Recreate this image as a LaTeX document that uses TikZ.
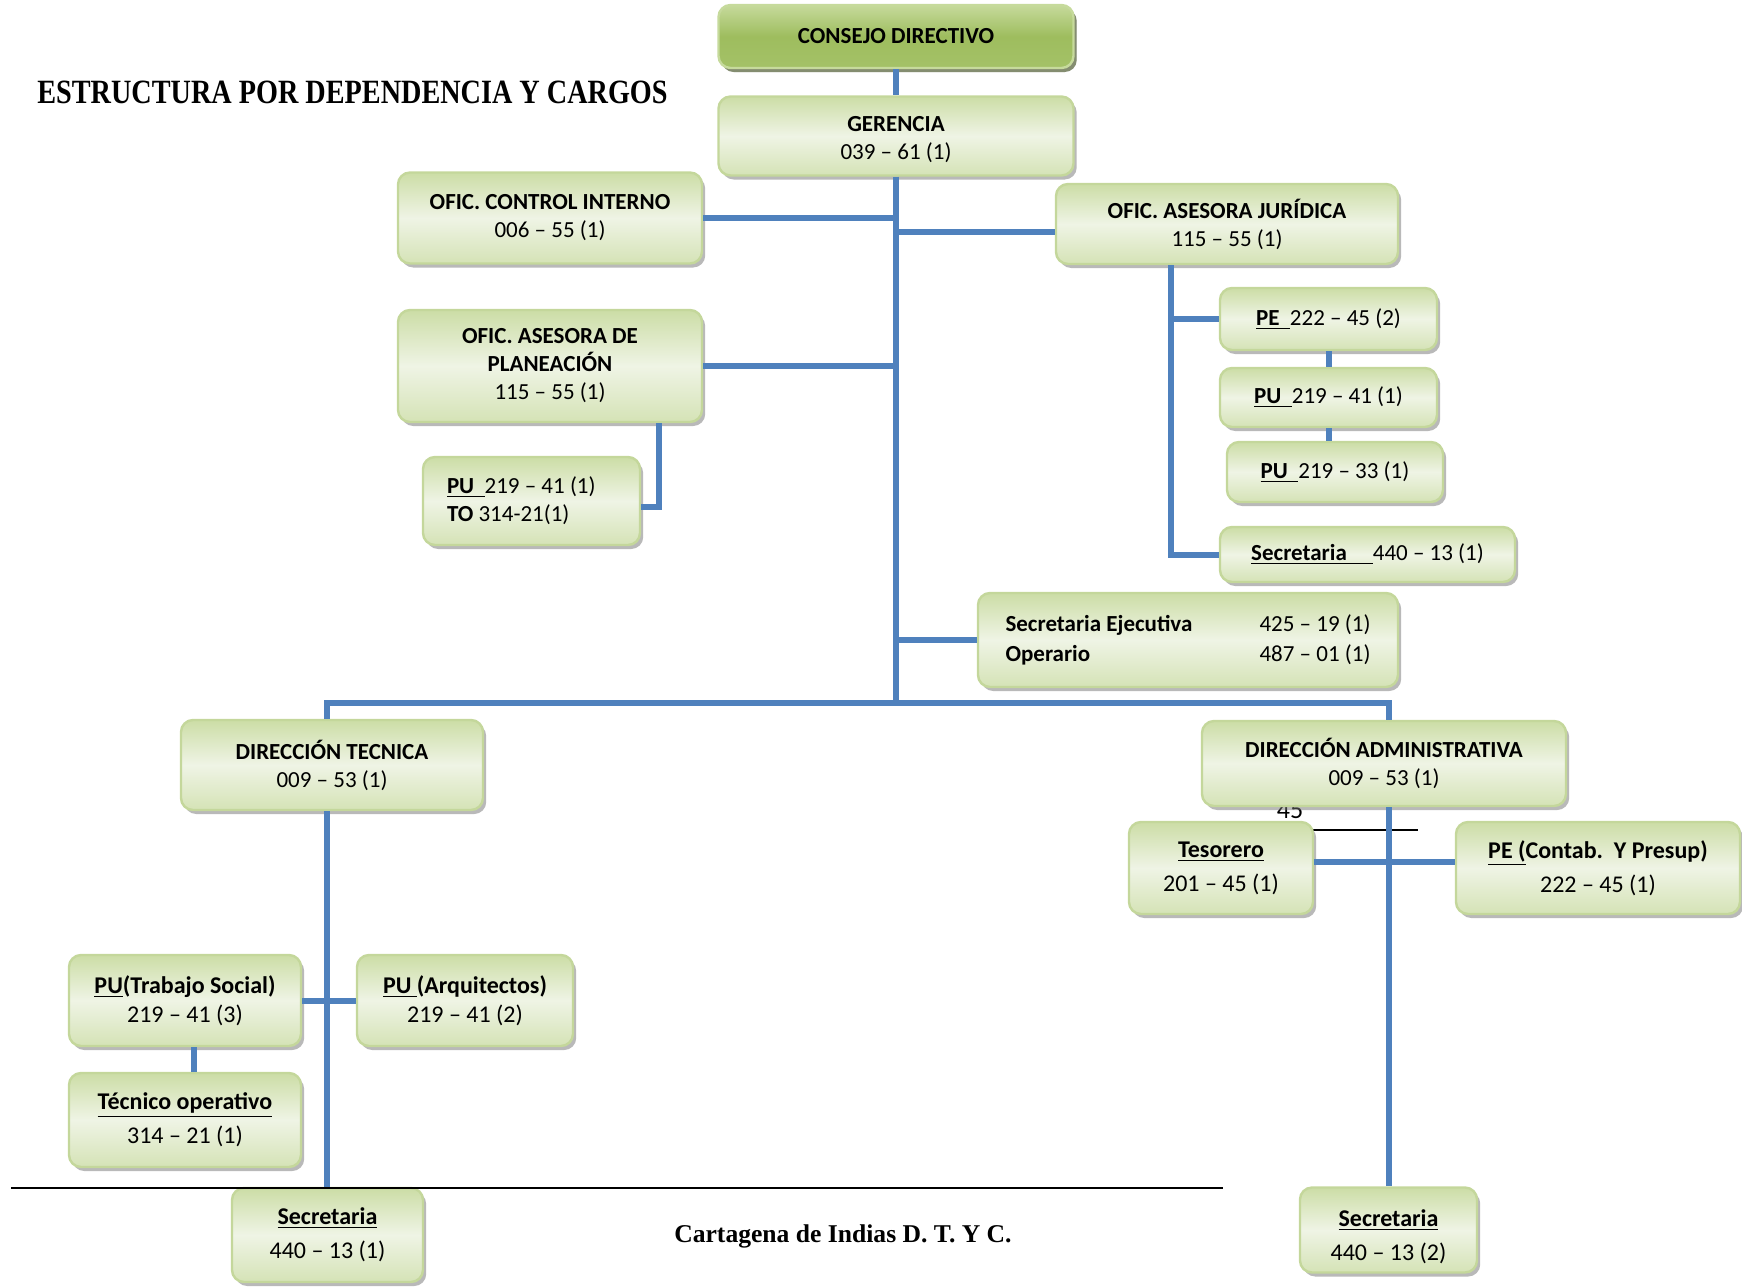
\documentclass[tikz,border=0pt]{standalone}
\usepackage{fontspec}
\usepackage{graphicx}
\setmainfont{Carlito}
\newfontfamily\titlefont{Liberation Serif}
\usetikzlibrary{shadows}
\definecolor{linkblue}{RGB}{79,129,189}
\definecolor{boxgreen}{RGB}{204,221,166}
\definecolor{boxlight}{RGB}{239,244,229}
\definecolor{boxline}{RGB}{196,215,155}
\definecolor{topgreen}{RGB}{158,189,94}
\definecolor{toplight}{RGB}{198,218,156}
\definecolor{topshadow}{RGB}{79,98,40}
\newcommand{\lowstrut}[1]{\rule{0pt}{#1}}
\tikzset{
  box/.style={rectangle, rounded corners=6pt, draw=boxline, line width=1.2pt,
    top color=boxgreen, bottom color=boxgreen!75!boxlight, middle color=boxlight,
    drop shadow={shadow xshift=1.6pt, shadow yshift=-2pt, fill=black!55},
    align=center, inner sep=0pt, font=\fontsize{11.5}{14}\selectfont},
  wide/.style={font=\fontsize{12}{17}\selectfont},
  topbox/.style={box, draw=toplight, top color=toplight, bottom color=topgreen!85!toplight,
    middle color=topgreen, drop shadow={shadow xshift=1.6pt, shadow yshift=-2pt, fill=topshadow}},
  link/.style={draw=linkblue, line width=3pt}
}
\begin{document}
\begin{tikzpicture}[x=0.5pt, y=-0.5pt]
  \useasboundingbox (0,0) rectangle (1742,1287);
  \node[anchor=base west, inner sep=0pt] (title) at (37,103)
    {\scalebox{0.83}[1]{\titlefont\bfseries\fontsize{17}{19}\selectfont ESTRUCTURA POR DEPENDENCIA Y CARGOS}};
  \node[anchor=base] (frag) at (1290,818) {\fontsize{13}{15}\selectfont 45};
  \draw[line width=0.8pt] (1313,830) -- (1418,830);

  \node[topbox, minimum width=177.5pt, minimum height=31.5pt] (consejo) at (896,36.5) {\textbf{CONSEJO DIRECTIVO}};
  \node[box, minimum width=177.5pt, minimum height=39.5pt] (gerencia) at (896,136) {\lowstrut{11.5pt}\textbf{GERENCIA}\\039 – 61 (1)};
  \node[box, minimum width=152pt, minimum height=45.5pt] (control) at (550,218) {\textbf{OFIC. CONTROL INTERNO}\\006 – 55 (1)};
  \node[box, minimum width=171pt, minimum height=40pt] (juridica) at (1227,224) {\textbf{OFIC. ASESORA JURÍDICA}\\115 – 55 (1)};
  \node[box, minimum width=152pt, minimum height=56pt] (planeacion) at (550,366) {\textbf{OFIC. ASESORA DE}\\\textbf{PLANEACIÓN}\\115 – 55 (1)};
  \node[box, align=flush left, text width=84.5pt, minimum width=108.5pt, minimum height=44pt] (putopl) at (531.5,501) {\underline{\textbf{PU\ \ }}219 – 41 (1)\\\textbf{TO} 314-21(1)};
  \node[box, minimum width=108.5pt, minimum height=31pt] (pe1) at (1328.5,319) {\underline{\textbf{PE\ \ }}222 – 45 (2)};
  \node[box, minimum width=108.5pt, minimum height=29.5pt] (pu1) at (1328.5,397.5) {\underline{\textbf{PU\ \ }}219 – 41 (1)};
  \node[box, minimum width=108pt, minimum height=30pt] (pu2) at (1335,472) {\underline{\textbf{PU\ \ }}219 – 33 (1)};
  \node[box, minimum width=147.5pt, minimum height=27.5pt] (secj) at (1367.5,554.5) {\underline{\textbf{Secretaria\ \ \ \ \ }}440 – 13 (1)};
  \node[box, minimum width=210pt, minimum height=47pt, font=\fontsize{11.5}{15}\selectfont] (sejec) at (1188,640)
    {\begin{tabular}{@{}p{127pt}@{}l@{}}\textbf{Secretaria Ejecutiva} & 425 – 19 (1)\\\textbf{Operario} & 487 – 01 (1)\end{tabular}};
  \node[box, minimum width=151pt, minimum height=45pt] (dtec) at (332,765) {\textbf{DIRECCIÓN TECNICA}\\009 – 53 (1)};
  \node[box, minimum width=182pt, minimum height=42.5pt] (dadm) at (1384,763.5) {\textbf{DIRECCIÓN ADMINISTRATIVA}\\009 – 53 (1)};
  \node[box, wide, minimum width=92pt, minimum height=46pt] (teso) at (1221,868) {\underline{\textbf{Tesorero}}\\201 – 45 (1)};
  \node[box, wide, minimum width=142pt, minimum height=46pt] (pecont) at (1598,868) {\underline{\textbf{PE (}}\textbf{Contab.\ \ Y Presup)}\\222 – 45 (1)};
  \node[box, minimum width=116pt, minimum height=45.5pt, font=\fontsize{12}{14.5}\selectfont] (puts) at (185,1000.5) {\underline{\textbf{PU}}\textbf{(Trabajo Social)}\\219 – 41 (3)};
  \node[box, minimum width=108pt, minimum height=45.5pt, font=\fontsize{12}{14.5}\selectfont] (puarq) at (465,1000.5) {\underline{\textbf{PU }}\textbf{(Arquitectos)}\\219 – 41 (2)};
  \node[box, wide, minimum width=116pt, minimum height=47pt] (tecop) at (185,1120) {\underline{\textbf{Técnico operativo}}\\314 – 21 (1)};
  \node[box, wide, minimum width=95.5pt, minimum height=47pt] (sec1) at (327.5,1235) {\underline{\textbf{Secretaria}}\\440 – 13 (1)};
  \node[box, wide, minimum width=88.5pt, minimum height=42.5pt] (sec2) at (1388.5,1230) {\lowstrut{15pt}\underline{\textbf{Secretaria}}\\440 – 13 (2)};

  \coordinate (bus) at (0,703);
  \coordinate (bl) at (327,703);
  \coordinate (br) at (1389,703);
  \begin{scope}[link]
    \draw (consejo) to (gerencia);
    \draw (gerencia) to (gerencia |- bus);
    \draw (control) to (control -| gerencia);
    \draw ([yshift=-4pt]juridica.west) to ([yshift=-4pt]juridica.west -| gerencia);
    \draw (planeacion) to (planeacion -| gerencia);
    \draw (sejec) to (sejec -| gerencia);
    \draw ([xshift=9pt]putopl.east |- planeacion.south) |- ([yshift=-3pt]putopl.east);
    \draw ([xshift=-28pt]juridica.south) |- (pe1);
    \draw ([xshift=-28pt]juridica.south) |- (secj);
    \draw (pe1) to (pu1);
    \draw (pu1.south) to (pu1.south |- pu2.north);
    \draw (bl |- dtec.north) -- (bl) -- (br) -- (br |- dadm.north);
    \draw (bl |- dtec.south) to (bl |- sec1.north);
    \draw (puts) to (puarq);
    \draw ([xshift=4.5pt]puts.south) to ([xshift=4.5pt]tecop.north);
    \draw (br |- dadm.south) to (br |- sec2.north);
    \draw ([yshift=3pt]teso.east) to ([yshift=3pt]pecont.west);
  \end{scope}

  \draw[line width=0.8pt] (11,1188) -- (1223,1188);
  \node[anchor=base] (city) at (843,1242)
    {\titlefont\bfseries\fontsize{12.8}{15}\selectfont Cartagena de Indias D. T. Y C.};
\end{tikzpicture}
\end{document}
